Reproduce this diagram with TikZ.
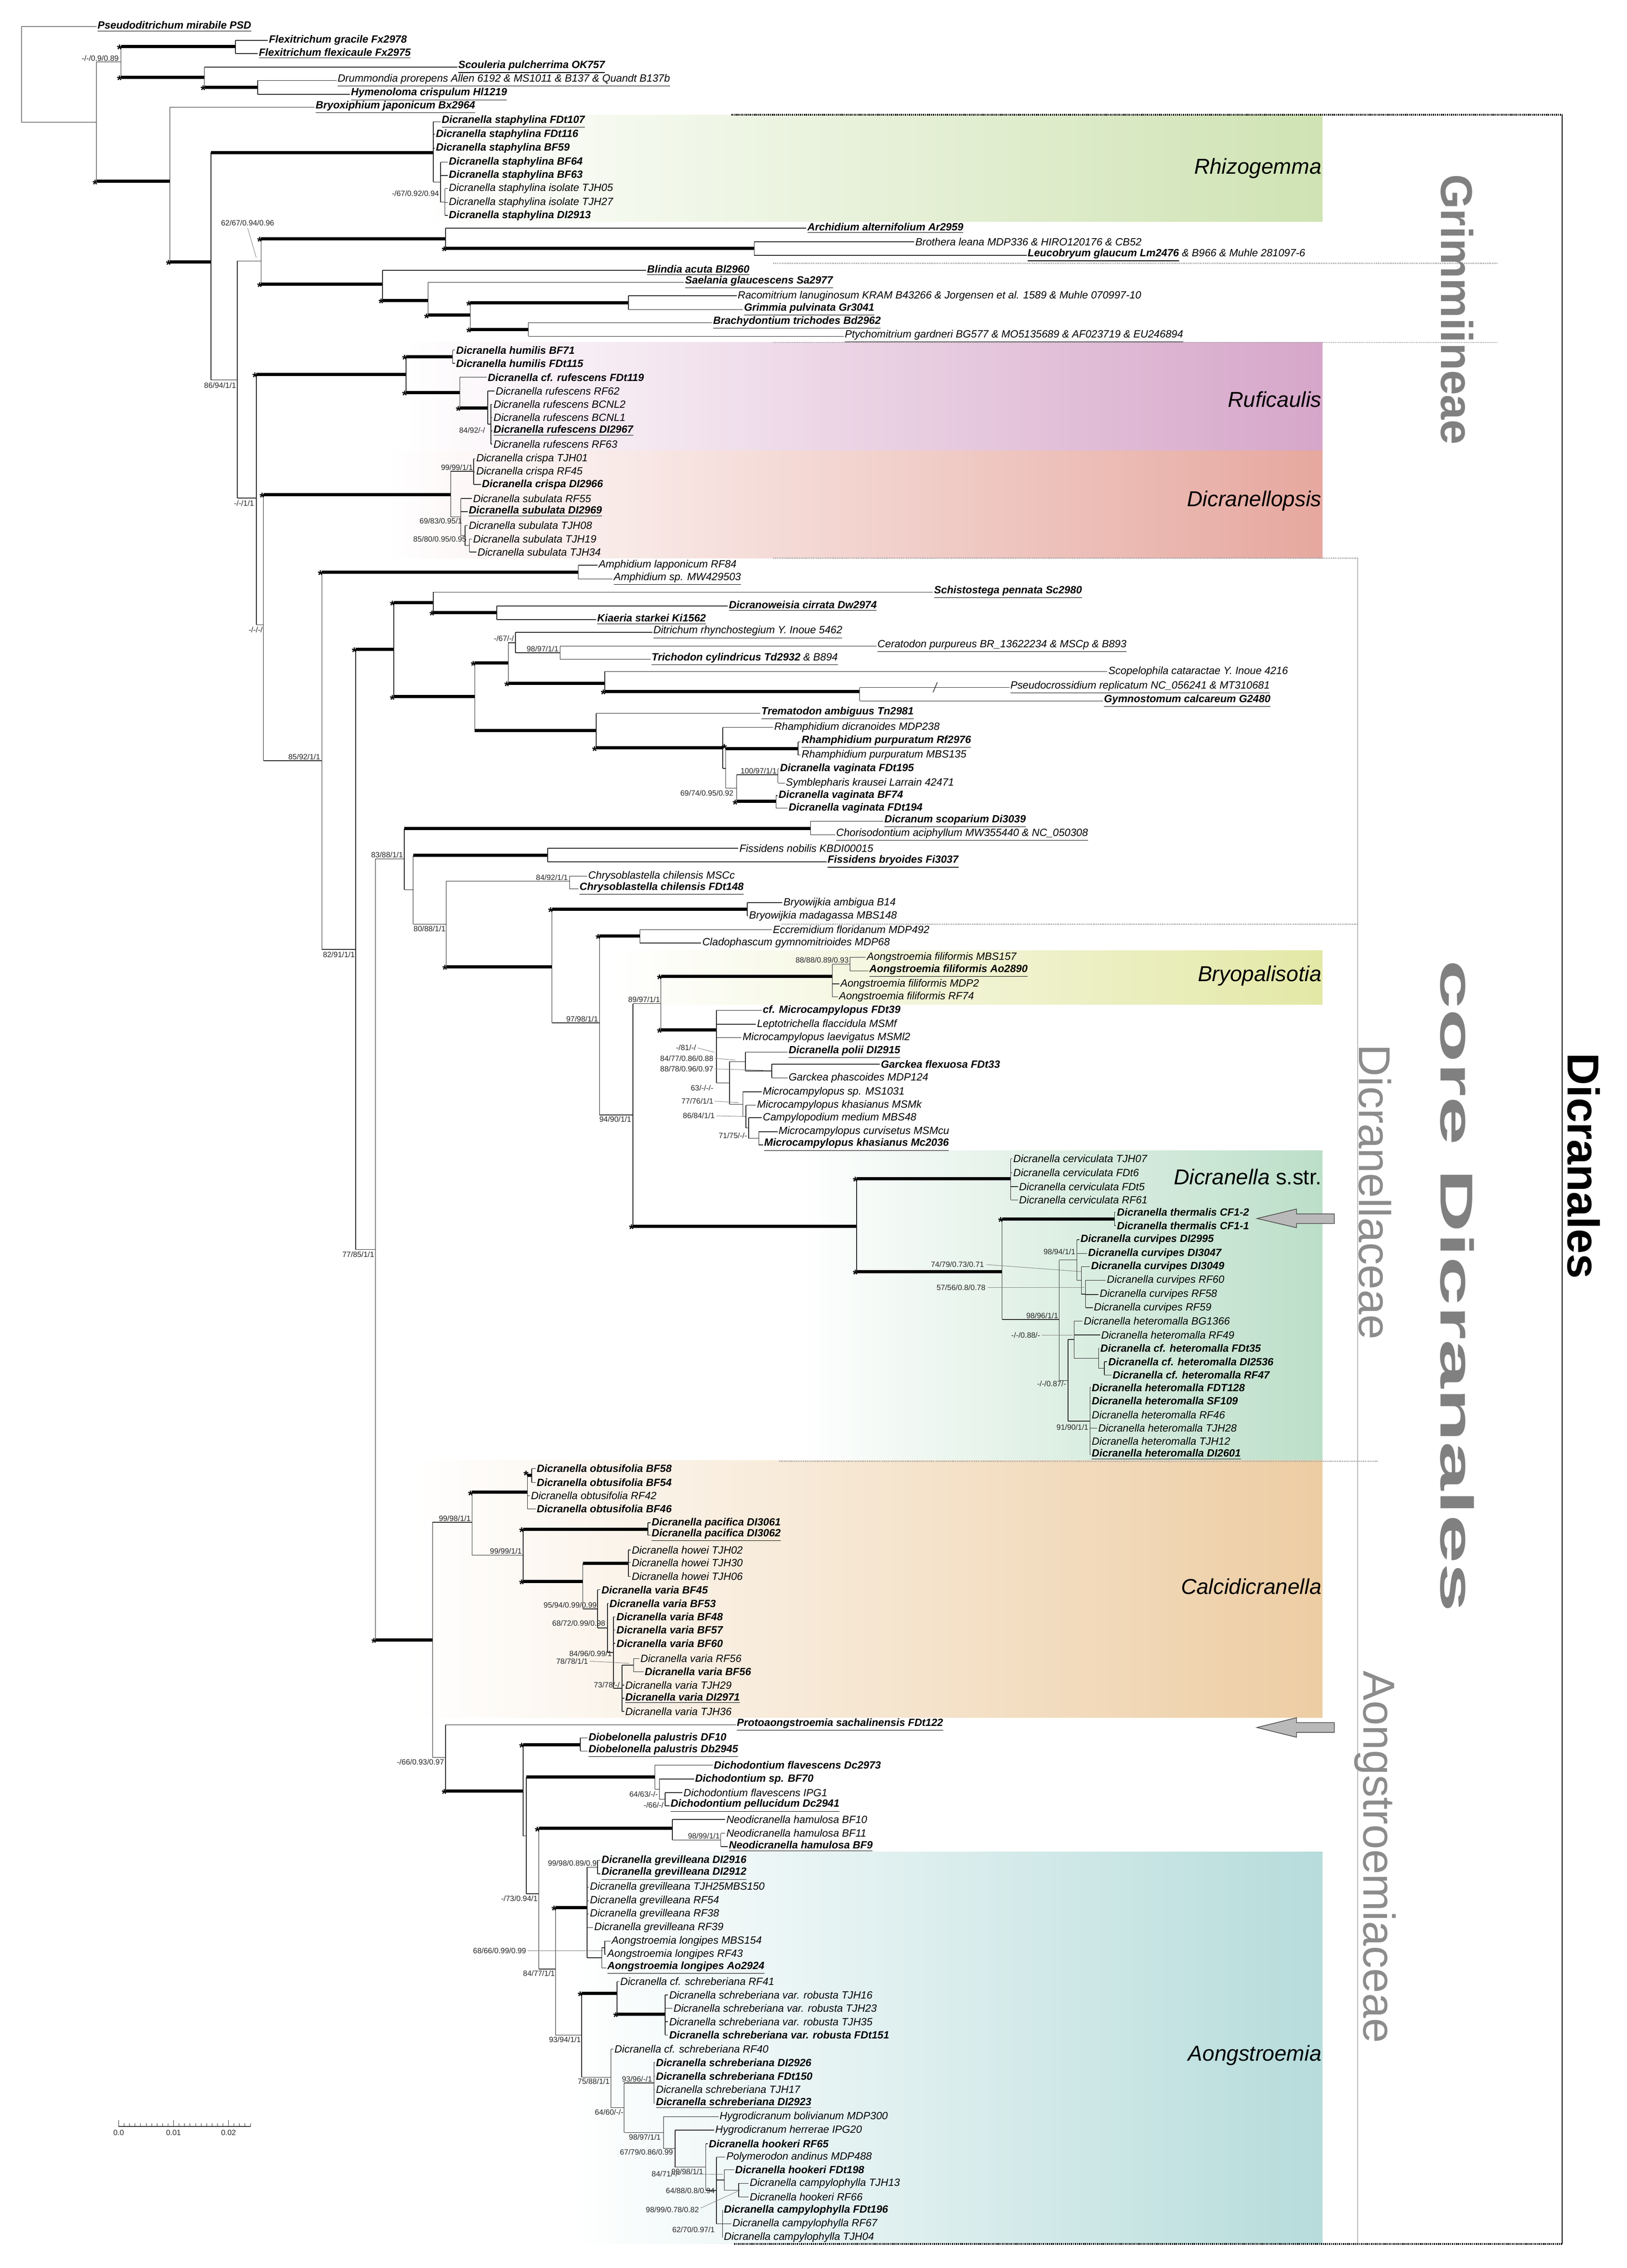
\documentclass[tikz,border=0pt]{standalone}
\usepackage{fontspec}
\setmainfont{Liberation Sans}
\begin{document}
\tikzset{
 br/.style={line width=0.45pt, black!85},
 tbr/.style={line width=2.2pt, black},
 leaf/.style={font=\fontsize{7.3}{8}\selectfont\itshape, inner sep=0.6pt, anchor=west},
 supp/.style={font=\fontsize{5.3}{6}\selectfont, inner sep=0.4pt, text=black!85},
 starn/.style={font=\fontsize{9}{9}\selectfont\bfseries, inner sep=0pt, anchor=east, yshift=-2pt},
 ldr/.style={line width=0.3pt, gray},
 clade/.style={font=\fontsize{15}{16}\selectfont\itshape, anchor=east, inner sep=0pt},
 vlab/.style={rotate=-90, inner sep=0pt},
 dotl/.style={gray!70, line width=0.9pt, dash pattern=on 0.6pt off 0.6pt},
 blk/.style={black, line width=1.2pt, dash pattern=on 0.8pt off 0.6pt},
 arr/.style={fill=gray!55, draw=black!70, line width=0.5pt},
}
\newcommand\brH[3]{\draw[br] (#1,#3) -- (#2,#3);}
\newcommand\brT[3]{\draw[tbr] (#1,#3) -- (#2,#3);}
\newcommand\brV[3]{\draw[br] (#1,#2) -- (#1,#3);}
\newcommand\fmtb[1]{\bfseries #1}
\newcommand\fmtbu[1]{\bfseries\underline{#1}}
\newcommand\fmtp[1]{#1}
\newcommand\fmtpu[1]{\underline{#1}}
\newcommand\lfN[5]{\draw[br] (#1,#3) -- (#2,#3); \node[leaf] at (#2,#3) {\csname fmt#4\endcsname{#5}};}
\newcommand\stN[2]{\node[starn] at (#1+1,#2) {*};}
\newcommand\supN[3][south east]{\node[supp,anchor=#1] at (#2) {#3};}
\begin{tikzpicture}[x=1pt,y=-1pt]
\useasboundingbox (0,0) rectangle (1130,1575.6);
\fill[white] (0,0) rectangle (1130,1575.6);
% ---------- coloured clade boxes ----------
\shade[left color=white, right color={rgb,255:red,207;green,227;blue,179}] (290,79.8) rectangle (918.5,154);
\shade[left color=white, right color={rgb,255:red,214;green,166;blue,201}] (281,237.9) rectangle (918.5,313.1);
\shade[left color=white, right color={rgb,255:red,230;green,168;blue,159}] (269,313.1) rectangle (918.5,387.8);
\shade[left color=white, right color={rgb,255:red,227;green,232;blue,166}] (427,660.3) rectangle (918.5,697.7);
\shade[left color=white, right color={rgb,255:red,188;green,223;blue,201}] (555,799.2) rectangle (918.5,1014.4);
\shade[left color=white, right color={rgb,255:red,237;green,205;blue,163}] (287,1014.4) rectangle (918.5,1193.3);
\shade[left color=white, right color={rgb,255:red,182;green,220;blue,219}] (397,1286.6) rectangle (918.5,1558.8);
% ---------- brackets and group lines ----------
\draw[blk] (508,79.8) -- (1085,79.8);
\draw[black, line width=0.5pt] (1085,79.8) -- (1085,1558.8);
\draw[blk] (510,1558.8) -- (1085,1558.8);
\draw[dotl] (537,182.8) -- (1040,182.8);
\draw[dotl] (537,237.9) -- (1040,237.9);
\draw[dotl] (537,387.8) -- (943,387.8);
\draw[dotl] (543,642.1) -- (943,642.1);
\draw[dotl] (541,1015.2) -- (957,1015.2);
\draw[gray, line width=0.4pt] (943,387.8) -- (943,1558.8);
% ---------- group names ----------
\node[vlab, font=\fontsize{31}{31}\selectfont\bfseries, text={rgb,255:red,128;green,128;blue,128}] at (1012,215) {Grimmiineae};
\node[vlab, font=\fontsize{31}{31}\selectfont, text={rgb,255:red,140;green,140;blue,140}] at (955,828) {Dicranellaceae};
\node[vlab, font=\fontsize{31}{31}\selectfont, text={rgb,255:red,140;green,140;blue,140}] at (955,1290) {Aongstroemiaceae};
\node[vlab, xscale=1.9, font=\fontsize{32}{32}\selectfont\bfseries, text={rgb,255:red,128;green,128;blue,128}] at (1012,893.5) {core Dicranales};
\node[vlab, font=\fontsize{31}{31}\selectfont\bfseries, text=black] at (1100,810) {Dicranales};
\node[clade] at (918,117) {Rhizogemma};
\node[clade] at (918,277.6) {Ruficaulis};
\node[clade] at (918,348) {Dicranellopsis};
\node[clade] at (918,678) {Bryopalisotia};
\node[clade] at (918,817.5) {Dicranella\/ \upshape s.str.};
\node[clade] at (918,1102) {Calcidicranella};
\node[clade] at (918,1428) {Aongstroemia};
% ---------- arrows ----------
\draw[arr] (873,846.5) -- (900.5,839.9) -- (900.5,843.3) -- (926.7,843.3) -- (926.7,850) -- (900.5,850) -- (900.5,852.9) -- cycle;
\draw[arr] (873,1200.1) -- (900.5,1193.3) -- (900.5,1196.7) -- (926.7,1196.7) -- (926.7,1203.5) -- (900.5,1203.5) -- (900.5,1206.9) -- cycle;
% ---------- scale bar ----------
\draw[black!80, line width=0.5pt] (82.4,1477.3) -- (174,1477.3);
\foreach \i in {0,...,24} {\draw[black!80, line width=0.3pt] (82.4+3.815*\i,1477.3) -- (82.4+3.815*\i,1475);}
\foreach \i in {0,10,20} {\draw[black!80, line width=0.4pt] (82.4+3.815*\i,1477.3) -- (82.4+3.815*\i,1472.9);}
\node[supp,anchor=north] at (82.4,1479) {0.0};
\node[supp,anchor=north] at (120.5,1479) {0.01};
\node[supp,anchor=north] at (158.7,1479) {0.02};
% ================= TREE =================
% root and outgroups
\brV{15}{18.4}{85}
\lfN{15}{67}{18.4}{bu}{Pseudoditrichum mirabile PSD}
\brH{15}{67}{85}
\brV{67}{43}{126}
\brH{67}{84}{43} \supN{83,43}{-/-/0.9/0.89}
\brV{84}{32.4}{53.7}
\brT{84}{163.6}{32.4} \stN{84}{32.4}
\brV{163.6}{28}{37.2}
\lfN{163.6}{186}{28}{b}{Flexitrichum gracile Fx2978}
\lfN{163.6}{179}{37.2}{bu}{Flexitrichum flexicaule Fx2975}
\brT{84}{142}{53.7} \stN{84}{53.7}
\brV{142}{46.6}{60.7}
\lfN{142}{317.5}{46.6}{bu}{Scouleria pulcherrima OK757}
\brT{142}{179}{60.7} \stN{142}{60.7}
\brV{179}{55.9}{65.6}
\lfN{179}{233.8}{55.9}{pu}{Drummondia prorepens Allen 6192 \& MS1011 \& B137 \& Quandt B137b}
\lfN{179}{243}{65.6}{bu}{Hymenoloma crispulum Hl1219}
\brT{67}{118}{126} \stN{67}{126}
\brV{118}{74.5}{182}
\lfN{118}{218.5}{74.5}{bu}{Bryoxiphium japonicum Bx2964}
\brT{118}{146.5}{182} \stN{118}{182}
\brV{146.5}{105.9}{264}
\brT{146.5}{301}{105.9}
% Rhizogemma
\brV{301}{84.6}{126.5}
\lfN{301}{306}{84.6}{bu}{Dicranella staphylina FDt107}
\lfN{301}{302}{93.3}{b}{Dicranella staphylina FDt116}
\lfN{301}{302}{103}{b}{Dicranella staphylina BF59}
\brH{301}{306}{126.5}
\brV{306}{112.7}{140.4}
\lfN{306}{311}{112.7}{b}{Dicranella staphylina BF64}
\lfN{306}{311}{121.9}{b}{Dicranella staphylina BF63}
\brH{306}{309}{140.4} \supN[east]{305.5,134.5}{-/67/0.92/0.94}
\brV{309}{131}{149.7}
\lfN{309}{311}{131}{p}{Dicranella staphylina isolate TJH05}
\lfN{309}{311}{140.7}{p}{Dicranella staphylina isolate TJH27}
\lfN{309}{311}{149.7}{b}{Dicranella staphylina DI2913}
% node I
\brH{146.5}{164.8}{264} \supN[north east]{164.5,265}{86/94/1/1}
\brV{164.8}{181.3}{346}
\brH{164.8}{181.3}{181.3}
\supN[south]{172,157.5}{62/67/0.94/0.96}
\draw[ldr] (172,158.5) -- (178,179);
\brV{181.3}{165.8}{197.5}
\brT{181.3}{309.5}{165.8} \stN{181.3}{165.8}
\brV{309.5}{158.5}{172.6}
\lfN{309.5}{560}{158.5}{bu}{Archidium alternifolium Ar2959}
\brT{309.5}{523.8}{172.6} \stN{309.5}{172.6}
\brV{523.8}{168}{177.4}
\lfN{523.8}{635}{168}{p}{Brothera leana MDP336 \& HIRO120176 \& CB52}
\lfN{523.8}{713}{177.4}{p}{{\bfseries\underline{Leucobryum glaucum Lm2476}} \& B966 \& Muhle 281097-6}
\brT{181.3}{265.6}{197.5} \stN{181.3}{197.5}
\brV{265.6}{187.8}{208.7}
\lfN{265.6}{448.7}{187.8}{bu}{Blindia acuta Bl2960}
\brT{265.6}{297.3}{208.7} \stN{265.6}{208.7}
\brV{297.3}{196.1}{219}
\lfN{297.3}{475}{196.1}{bu}{Saelania glaucescens Sa2977}
\brT{297.3}{326.6}{219} \stN{297.3}{219}
\brV{326.6}{210.3}{229}
\brT{326.6}{436.5}{210.3} \stN{326.6}{210.3}
\brV{436.5}{205.5}{215}
\lfN{436.5}{511.6}{205.5}{p}{Racomitrium lanuginosum KRAM B43266 \& Jorgensen et al. 1589 \& Muhle 070997-10}
\lfN{436.5}{516}{215}{bu}{Grimmia pulvinata Gr3041}
\brT{326.6}{367}{229} \stN{326.6}{229}
\brV{367}{224.2}{233.6}
\lfN{367}{494.5}{224.2}{bu}{Brachydontium trichodes Bd2962}
\lfN{367}{586}{233.6}{pu}{Ptychomitrium gardneri BG577 \& MO5135689 \& AF023719 \& EU246894}
% node R
\brH{164.8}{178}{346} \supN[north east]{177,347}{-/-/1/1}
\brV{178}{260}{434}
\brT{178}{282}{260} \stN{178}{260}
% Ruficaulis
\brV{282}{247.8}{272.7}
\brT{282}{314.4}{247.8} \stN{282}{247.8}
\brV{314.4}{243.2}{252.4}
\lfN{314.4}{316}{243.2}{b}{Dicranella humilis BF71}
\lfN{314.4}{316}{252.4}{b}{Dicranella humilis FDt115}
\brT{282}{319.3}{272.7} \stN{282}{272.7}
\brV{319.3}{262.1}{283.3}
\lfN{319.3}{338}{262.1}{b}{Dicranella cf. rufescens FDt119}
\brT{319.3}{338.8}{283.3} \stN{319.3}{283.3}
\brV{338.8}{271.7}{294.7}
\lfN{338.8}{343.5}{271.7}{p}{Dicranella rufescens RF62}
\brH{338.8}{341}{294.7} \supN[east]{337.5,299}{84/92/-/}
\brV{341}{280.9}{308.5}
\lfN{341}{342}{280.9}{p}{Dicranella rufescens BCNL2}
\lfN{341}{342}{290.1}{p}{Dicranella rufescens BCNL1}
\lfN{341}{342}{299.3}{bu}{Dicranella rufescens DI2967}
\lfN{341}{342}{308.5}{p}{Dicranella rufescens RF63}
% node S
\brH{178}{183}{434} \supN[north east]{183,435}{-/-/-/}
\brV{183}{343.5}{528.5}
\brT{183}{313}{343.5} \stN{183}{343.5}
% Dicranellopsis
\brV{313}{327.4}{359}
\brH{313}{329}{327.4} \supN{329,327.2}{99/99/1/1}
\brV{329}{318.7}{336.6}
\lfN{329}{330}{318.7}{p}{Dicranella crispa TJH01}
\lfN{329}{330}{327.9}{p}{Dicranella crispa RF45}
\lfN{329}{334}{336.6}{b}{Dicranella crispa DI2966}
\brH{313}{320}{359}
\brV{320}{346.3}{372}
\lfN{320}{327.8}{346.3}{p}{Dicranella subulata RF55}
\lfN{320}{324.8}{355.4}{bu}{Dicranella subulata DI2969}
\brH{320}{323}{372} \supN[east]{321.5,362}{69/83/0.95/1}
\brV{323}{365.1}{379}
\lfN{323}{324.8}{365.1}{p}{Dicranella subulata TJH08}
\brH{323}{326}{379} \supN[east]{324.5,374.5}{85/80/0.95/0.95}
\brV{326}{374.5}{383.5}
\lfN{326}{327.8}{374.5}{p}{Dicranella subulata TJH19}
\lfN{326}{330.9}{383.5}{p}{Dicranella subulata TJH34}
% node T
\brH{183}{223.5}{528.5} \supN{223,528.3}{85/92/1/1}
\brV{223.5}{397.5}{659.5}
\brT{223.5}{401.7}{397.5} \stN{223.5}{397.5}
\brV{401.7}{392.6}{402.3}
\lfN{401.7}{415}{392.6}{p}{Amphidium lapponicum RF84}
\lfN{401.7}{425.5}{402.3}{pu}{Amphidium sp. MW429503}
\brH{223.5}{247}{659.5} \supN[north east]{247,660.5}{82/91/1/1}
% node U
\brV{247}{451}{868}
\brT{247}{273.5}{451} \stN{247}{451}
\brV{273.5}{418.6}{484}
\brT{273.5}{301}{418.6} \stN{273.5}{418.6}
\brV{301}{411.3}{425.5}
\lfN{301}{648}{411.3}{bu}{Schistostega pennata Sc2980}
\brT{301}{345}{425.5} \stN{301}{425.5}
\brV{345}{421}{430.4}
\lfN{345}{505.5}{421}{bu}{Dicranoweisia cirrata Dw2974}
\lfN{345}{414}{430.4}{bu}{Kiaeria starkei Ki1562}
\brT{273.5}{329.7}{484} \stN{273.5}{484}
\brV{329.7}{460.6}{507.4}
\brT{329.7}{353}{460.6} \stN{329.7}{460.6}
\brV{353}{446.5}{474.6}
\brH{353}{358}{446.5} \supN{357.5,446}{-/67/-/}
\brV{358}{439.3}{453.5}
\lfN{358}{453}{439.3}{pu}{Ditrichum rhynchostegium Y. Inoue 5462}
\brH{358}{389}{453.5} \supN{388.5,453.3}{98/97/1/1}
\brV{389}{448.9}{458}
\lfN{389}{608.7}{448.9}{pu}{Ceratodon purpureus BR\_13622234 \& MSCp \& B893}
\lfN{389}{451.8}{458}{pu}{{\bfseries Trichodon cylindricus Td2932} \& B894}
\brT{353}{420}{474.6} \stN{353}{474.6}
\brV{420}{466.5}{480.4}
\lfN{420}{769}{466.5}{p}{Scopelophila cataractae Y. Inoue 4216}
\brT{420}{597}{480.4} \stN{420}{480.4}
\brV{597}{477.6}{487}
\lfN{597}{701}{477.6}{pu}{Pseudocrossidium replicatum NC\_056241 \& MT310681}
\draw[br] (648,481) -- (651,474);
\lfN{597}{766}{487}{bu}{Gymnostomum calcareum G2480}
\brT{329.7}{414}{507.4}
\brV{414}{495.6}{519.6}
\lfN{414}{528}{495.6}{bu}{Trematodon ambiguus Tn2981}
\brT{414}{502}{519.6} \stN{414}{519.6}
\brV{502}{505.3}{533.8}
\lfN{502}{537}{505.3}{p}{Rhamphidium dicranoides MDP238}
\brH{502}{504}{533.8}
\brV{504}{520}{547.5}
\brT{504}{554.3}{520} \stN{504}{518}
\brV{554.3}{515.4}{524.6}
\lfN{554.3}{556}{515.4}{bu}{Rhamphidium purpuratum Rf2976}
\lfN{554.3}{556}{524.6}{p}{Rhamphidium purpuratum MBS135}
\brH{504}{511.6}{547.5}
\brV{511.6}{538.2}{556.8}
\brH{511.6}{540.3}{538.2} \supN{540,538}{100/97/1/1}
\brV{540.3}{534}{544}
\lfN{540.3}{541}{534}{b}{Dicranella vaginata FDt195}
\lfN{540.3}{545}{544}{p}{Symblepharis krausei Larrain 42471}
\brT{511.6}{539}{556.8} \stN{511.6}{556.8} \supN[east]{510,551}{69/74/0.95/0.92}
\brV{539}{552.7}{561.3}
\lfN{539}{540}{552.7}{b}{Dicranella vaginata BF74}
\lfN{539}{547}{561.3}{b}{Dicranella vaginata FDt194}
% node AJ
\brH{247}{260.7}{868} \supN[north east]{260.5,869}{77/85/1/1}
\brV{260.7}{596.7}{1139.2}
\brH{260.7}{280.8}{596.7} \supN{280.5,596.5}{83/88/1/1}
\brV{280.8}{575.6}{618.1}
\brT{280.8}{563}{575.6}
\brV{563}{570.5}{580}
\lfN{563}{613.5}{570.5}{bu}{Dicranum scoparium Di3039}
\lfN{563}{580}{580}{pu}{Chorisodontium aciphyllum MW355440 \& NC\_050308}
\brH{280.8}{287}{618.1}
\brV{287}{594.3}{642}
\brT{287}{380.3}{594.3}
\brV{380.3}{589.3}{598.7}
\lfN{380.3}{512.8}{589.3}{p}{Fissidens nobilis KBDI00015}
\lfN{380.3}{574}{598.7}{bu}{Fissidens bryoides Fi3037}
\brH{287}{310}{642} \supN[north east]{310,642.5}{80/88/1/1}
\brV{310}{612.1}{671.6}
\brH{310}{395.6}{612.1} \supN{395,612}{84/92/1/1}
\brV{395.6}{608.7}{617.4}
\lfN{395.6}{407.8}{608.7}{p}{Chrysoblastella chilensis MSCc}
\lfN{395.6}{401.7}{617.4}{bu}{Chrysoblastella chilensis FDt148}
\brT{310}{383.4}{671.6} \stN{310}{671.6}
\brV{383.4}{631.5}{710.6}
\brT{383.4}{519}{631.5} \stN{383.4}{631.5}
\brV{519}{627.1}{636.3}
\lfN{519}{543.4}{627.1}{p}{Bryowijkia ambigua B14}
\lfN{519}{519.5}{636.3}{p}{Bryowijkia madagassa MBS148}
\brH{383.4}{416.4}{710.6} \supN{416,710.4}{97/98/1/1}
\brV{416.4}{650.3}{774.5}
\brT{416.4}{444.4}{650.3} \stN{416.4}{650.3}
\brV{444.4}{645.8}{655.1}
\lfN{444.4}{536}{645.8}{p}{Eccremidium floridanum MDP492}
\lfN{444.4}{487}{655.1}{p}{Cladophascum gymnomitrioides MDP68}
\brH{416.4}{439.6}{774.5} \supN[north east]{439,775}{94/90/1/1}
\brV{439.6}{697.2}{851.8}
\brH{439.6}{459}{697.2} \supN{459,697}{89/97/1/1}
\brV{459}{678.3}{715.4}
\brT{459}{578}{678.3} \stN{459}{678.3}
\brV{578}{669.8}{692.4}
\brH{578}{590.3}{669.8} \supN{590,669.6}{88/88/0.89/0.93}
\brV{590.3}{665.1}{674.5}
\lfN{590.3}{601.3}{665.1}{p}{Aongstroemia filiformis MBS157}
\lfN{590.3}{603}{674.5}{bu}{Aongstroemia filiformis Ao2890}
\lfN{578}{583}{683.5}{p}{Aongstroemia filiformis MDP2}
\lfN{578}{582}{692.4}{p}{Aongstroemia filiformis RF74}
\brT{459}{497.6}{715.4} \stN{459}{715.4}
\brV{497.6}{701.9}{752.3}
\lfN{497.6}{529}{701.9}{b}{cf. Microcampylopus FDt39}
\lfN{497.6}{525}{711.6}{p}{Leptotrichella flaccidula MSMf}
\lfN{497.6}{515}{720.9}{p}{Microcampylopus laevigatus MSMl2}
\supN[east]{484,727.7}{-/81/-/} \draw[ldr] (484.5,728) -- (496,731);
\brH{497.6}{506.7}{752.3} \supN[east]{496,755.7}{63/-/-/-}
\brV{506.7}{737.5}{767.1}
\brH{506.7}{517.7}{737.5}
\supN[east]{496,735.2}{84/77/0.86/0.88} \draw[ldr] (496.5,735.2) -- (511,736.5);
\brV{517.7}{731}{744}
\lfN{517.7}{547}{731}{bu}{Dicranella polii DI2915}
\brH{517.7}{536}{744}
\supN[east]{496,742.6}{88/78/0.96/0.97} \draw[ldr] (496.5,742.6) -- (530,743.5);
\brV{536}{739.3}{748.8}
\lfN{536}{611}{739.3}{b}{Garckea flexuosa FDt33}
\lfN{536}{547}{748.8}{p}{Garckea phascoides MDP124}
\brH{506.7}{516}{767.1}
\supN[east]{496,764.8}{77/76/1/1} \draw[ldr] (496.5,765) -- (513,766);
\brV{516}{758.5}{775.7}
\lfN{516}{529}{758.5}{p}{Microcampylopus sp. MS1031}
\brH{516}{518}{775.7}
\supN[east]{497,775}{86/84/1/1} \draw[ldr] (497.5,775.2) -- (517,775.6);
\brV{518}{767.8}{783.6}
\lfN{518}{525}{767.8}{p}{Microcampylopus khasianus MSMk}
\brH{518}{520}{783.6}
\brV{520}{776.5}{790.8}
\lfN{520}{529}{776.5}{p}{Campylopodium medium MBS48}
\brH{520}{527}{790.8} \supN[east]{519.5,789}{71/75/-/-}
\brV{527}{786.2}{795.4}
\lfN{527}{540}{786.2}{p}{Microcampylopus curvisetus MSMcu}
\lfN{527}{530}{795.4}{bu}{Microcampylopus khasianus Mc2036}
% Dicranella s.str.
\brT{439.6}{595}{851.8} \stN{439.6}{851.8}
\brV{595}{818.9}{883.4}
\brT{595}{702}{818.9} \stN{595}{818.9}
\brV{702}{805}{833.6}
\lfN{702}{703}{805}{p}{Dicranella cerviculata TJH07}
\lfN{702}{703}{814.7}{p}{Dicranella cerviculata FDt6}
\lfN{702}{707}{824.4}{p}{Dicranella cerviculata FDt5}
\lfN{702}{707}{833.6}{p}{Dicranella cerviculata RF61}
\brT{595}{696}{883.4} \stN{595}{883.4}
\brV{696}{846.9}{916.7}
\brT{696}{774}{846.9} \stN{696}{846.9}
\brV{774}{842.2}{851.4}
\lfN{774}{775}{842.2}{b}{Dicranella thermalis CF1-2}
\lfN{774}{775}{851.4}{b}{Dicranella thermalis CF1-1}
\brH{696}{735.7}{916.7} \supN{735.5,916.5}{98/96/1/1}
\brV{735.7}{875.3}{959}
\brH{735.7}{748}{875.3}
\supN[east]{684,878.5}{74/79/0.73/0.71} \draw[ldr] (685,878.5) -- (751,883.4);
\brV{748}{861.2}{889.5}
\lfN{748}{749.7}{861.2}{b}{Dicranella curvipes DI2995}
\lfN{748}{755}{870.8}{b}{Dicranella curvipes DI3047} \supN[east]{747.5,869.5}{98/94/1/1}
\brH{748}{751}{889.5}
\brV{751}{879.9}{899}
\lfN{751}{757}{879.9}{b}{Dicranella curvipes DI3049}
\brH{751}{754}{899}
\supN[east]{685,894.6}{57/56/0.8/0.78} \draw[ldr] (686,894.6) -- (753,894.6);
\brV{754}{889.4}{908.5}
\lfN{754}{768}{889.4}{p}{Dicranella curvipes RF60}
\lfN{754}{763}{899.3}{p}{Dicranella curvipes RF58}
\lfN{754}{759}{908.5}{p}{Dicranella curvipes RF59}
\brH{735.7}{741.8}{959}
\brV{741.8}{930.6}{987.2}
\brH{741.8}{746}{930.6}
\brV{746}{917.7}{943.6}
\lfN{746}{752}{917.7}{p}{Dicranella heteromalla BG1366}
\lfN{746}{764}{927.4}{p}{Dicranella heteromalla RF49}
\supN[east]{723,927.6}{-/-/0.88/-} \draw[ldr] (723.5,927.6) -- (745,927.6);
\brH{746}{763}{943.6}
\brV{763}{936.6}{950.6}
\lfN{763}{763.5}{936.6}{b}{Dicranella cf. heteromalla FDt35}
\brH{763}{767}{950.6}
\brV{767}{946}{955.2}
\lfN{767}{769}{946}{b}{Dicranella cf. heteromalla DI2536}
\lfN{767}{772}{955.2}{b}{Dicranella cf. heteromalla RF47}
\brH{741.8}{757}{987.2} \supN[east]{741,961.2}{-/-/0.87/-}
\brV{757}{963.9}{1010.5}
\lfN{757}{757.5}{963.9}{b}{Dicranella heteromalla FDT128}
\lfN{757}{757.5}{973.3}{b}{Dicranella heteromalla SF109}
\lfN{757}{757.5}{983}{p}{Dicranella heteromalla RF46}
\lfN{757}{762}{992.1}{p}{Dicranella heteromalla TJH28} \supN[east]{756.5,991.5}{91/90/1/1}
\lfN{757}{757.5}{1001.3}{p}{Dicranella heteromalla TJH12}
\lfN{757}{757.5}{1010.5}{bu}{Dicranella heteromalla DI2601}
% Calcidicranella + Aongstroemiaceae
\brT{260.7}{300.4}{1139.2} \stN{260.7}{1139.2}
\brV{300.4}{1057.5}{1220.9}
\brH{300.4}{327.8}{1057.5} \supN{327.5,1057.3}{99/98/1/1}
\brV{327.8}{1036.7}{1080.4}
\brT{327.8}{366.3}{1036.7} \stN{327.8}{1036.7}
\brV{366.3}{1025}{1048.3}
\brT{366.3}{369.3}{1025} \stN{366.3}{1023}
\brV{369.3}{1020.2}{1029.9}
\lfN{369.3}{372}{1020.2}{b}{Dicranella obtusifolia BF58}
\lfN{369.3}{372}{1029.9}{b}{Dicranella obtusifolia BF54}
\lfN{366.3}{368}{1039.1}{p}{Dicranella obtusifolia RF42}
\lfN{366.3}{372}{1048.3}{b}{Dicranella obtusifolia BF46}
\brH{327.8}{363.3}{1080.4} \supN{363,1080.2}{99/99/1/1}
\brV{363.3}{1062.3}{1098.5}
\brT{363.3}{450}{1062.3} \stN{363.3}{1062.3}
\brV{450}{1057.9}{1066.6}
\lfN{450}{451.8}{1057.9}{b}{Dicranella pacifica DI3061}
\lfN{450}{451.8}{1066.6}{bu}{Dicranella pacifica DI3062}
\brT{363.3}{404.8}{1098.5} \stN{363.3}{1098.5}
\brV{404.8}{1086}{1117.7}
\brT{404.8}{436.5}{1086}
\brV{436.5}{1076.8}{1095.2}
\lfN{436.5}{438}{1076.8}{p}{Dicranella howei TJH02}
\lfN{436.5}{438}{1085.5}{p}{Dicranella howei TJH30}
\lfN{436.5}{438}{1095.2}{p}{Dicranella howei TJH06}
\brH{404.8}{415}{1117.7} \supN{415,1117.5}{95/94/0.99/0.99}
\brV{415}{1104.4}{1131}
\lfN{415}{417}{1104.4}{b}{Dicranella varia BF45}
\brH{415}{422}{1131} \supN[east]{421,1127.5}{68/72/0.99/0.98}
\brV{422}{1114}{1148}
\lfN{422}{422.5}{1114}{b}{Dicranella varia BF53}
\brH{422}{426}{1148} \supN[east]{425.5,1148.8}{84/96/0.99/1}
\brV{426}{1123.2}{1172.9}
\lfN{426}{427.4}{1123.2}{b}{Dicranella varia BF48}
\lfN{426}{427.4}{1132.4}{b}{Dicranella varia BF57}
\lfN{426}{427.4}{1141.6}{b}{Dicranella varia BF60}
\brH{426}{432}{1172.9} \supN[east]{431,1170.6}{73/78/-/}
\brV{432}{1156.8}{1188.9}
\brH{432}{440}{1156.8}
\supN[east]{409,1154}{78/78/1/1} \draw[ldr] (409.5,1154) -- (437,1155.5);
\brV{440}{1152.2}{1161.4}
\lfN{440}{444}{1152.2}{p}{Dicranella varia RF56}
\lfN{440}{447}{1161.4}{b}{Dicranella varia BF56}
\lfN{432}{433.5}{1170.6}{p}{Dicranella varia TJH29}
\lfN{432}{433.5}{1179.8}{bu}{Dicranella varia DI2971}
\lfN{432}{433.5}{1188.9}{p}{Dicranella varia TJH36}
% Aongstroemiaceae
\brH{300.4}{309.5}{1220.9} \supN[north east]{309,1221.5}{-/66/0.93/0.97}
\brV{309.5}{1198.3}{1244.1}
\lfN{309.5}{511}{1198.3}{bu}{Protoaongstroemia sachalinensis FDt122}
\brT{309.5}{363.3}{1244.1} \stN{309.5}{1244.1}
\brV{363.3}{1212.1}{1275.5}
\brT{363.3}{403}{1212.1} \stN{363.3}{1212.1}
\brV{403}{1207.3}{1216.5}
\lfN{403}{408}{1207.3}{b}{Diobelonella palustris DF10}
\lfN{403}{408}{1216.5}{bu}{Diobelonella palustris Db2945}
\brH{363.3}{365.5}{1275.5}
\brV{365.5}{1234.5}{1315.6}
\brT{365.5}{454.8}{1234.5}
\brV{454.8}{1226.2}{1242.9}
\lfN{454.8}{495}{1226.2}{b}{Dichodontium flavescens Dc2973}
\brH{454.8}{458}{1242.9} \supN[east]{457.5,1246.5}{64/63/-/-}
\brV{458}{1235.9}{1249.9}
\lfN{458}{482}{1235.9}{b}{Dichodontium sp. BF70}
\brH{458}{462}{1249.9} \supN[east]{461.5,1254}{-/66/-/}
\brV{462}{1245.3}{1254.5}
\lfN{462}{474}{1245.3}{p}{Dichodontium flavescens IPG1}
\lfN{462}{465}{1254.5}{bu}{Dichodontium pellucidum Dc2941}
\brH{365.5}{374.2}{1315.6} \supN[north east]{374,1316.5}{-/73/0.94/1}
\brV{374.2}{1270.2}{1367.9}
\brT{374.2}{467}{1270.2} \stN{374.2}{1270.2}
\brV{467}{1263.9}{1278.2}
\lfN{467}{503.7}{1263.9}{p}{Neodicranella hamulosa BF10}
\brH{467}{500.6}{1278.2} \supN{500.5,1278}{98/99/1/1}
\brV{500.6}{1273.6}{1282.8}
\lfN{500.6}{503.7}{1273.6}{p}{Neodicranella hamulosa BF11}
\lfN{500.6}{505.5}{1282.8}{bu}{Neodicranella hamulosa BF9}
\brH{374.2}{385.8}{1367.9} \supN[north east]{386,1368.5}{84/77/1/1}
\brV{385.8}{1325.3}{1413.8}
\brT{385.8}{407.8}{1325.3} \stN{385.8}{1325.3}
\brV{407.8}{1297.1}{1360.1}
\brH{407.8}{415}{1297.1} \supN{415,1296.9}{99/98/0.89/0.9}
\brV{415}{1292.4}{1301.8}
\lfN{415}{417}{1292.4}{b}{Dicranella grevilleana DI2916}
\lfN{415}{417}{1301.8}{bu}{Dicranella grevilleana DI2912}
\lfN{407.8}{409}{1311.1}{p}{Dicranella grevilleana TJH25MBS150}
\lfN{407.8}{409}{1320.5}{p}{Dicranella grevilleana RF54}
\lfN{407.8}{409}{1329.7}{p}{Dicranella grevilleana RF38}
\lfN{407.8}{412}{1339.1}{p}{Dicranella grevilleana RF39}
\brH{407.8}{418}{1360.1}
\supN[east]{366,1355.3}{68/66/0.99/0.99} \draw[ldr] (366.5,1355.3) -- (419,1355.3);
\brV{418}{1353.1}{1367.2}
\brH{418}{420}{1353.1}
\brV{420}{1348.5}{1357.7}
\lfN{420}{424}{1348.5}{p}{Aongstroemia longipes MBS154}
\lfN{420}{421}{1357.7}{p}{Aongstroemia longipes RF43}
\lfN{418}{421}{1367.2}{bu}{Aongstroemia longipes Ao2924}
\brH{385.8}{404}{1413.8} \supN[north east]{404,1414.5}{93/94/1/1}
\brV{404}{1384.8}{1443}
\brT{404}{428.6}{1384.8} \stN{404}{1384.8}
\brV{428.6}{1376.6}{1399.3}
\lfN{428.6}{430}{1376.6}{p}{Dicranella cf. schreberiana RF41}
\brT{428.6}{462}{1399.3} \stN{428.6}{1399.3}
\brV{462}{1385.9}{1413.7}
\lfN{462}{464}{1385.9}{p}{Dicranella schreberiana var. robusta TJH16}
\lfN{462}{467}{1395.1}{p}{Dicranella schreberiana var. robusta TJH23}
\lfN{462}{464}{1404.5}{p}{Dicranella schreberiana var. robusta TJH35}
\lfN{462}{464}{1413.7}{b}{Dicranella schreberiana var. robusta FDt151}
\brH{404}{424.3}{1443} \supN[north east]{424,1443.5}{75/88/1/1}
\brV{424.3}{1423.5}{1464.2}
\lfN{424.3}{426}{1423.5}{p}{Dicranella cf. schreberiana RF40}
\brH{424.3}{433.5}{1464.2} \supN[north east]{433.5,1464.7}{64/60/-/-}
\brV{433.5}{1447}{1481.5}
\brH{433.5}{454.2}{1447} \supN{453.5,1446.8}{93/96/-/1}
\brV{454.2}{1432.9}{1461}
\lfN{454.2}{454.8}{1432.9}{b}{Dicranella schreberiana DI2926}
\lfN{454.2}{454.8}{1442.3}{b}{Dicranella schreberiana FDt150}
\lfN{454.2}{454.8}{1451.6}{p}{Dicranella schreberiana TJH17}
\lfN{454.2}{454.8}{1461}{bu}{Dicranella schreberiana DI2923}
\brH{433.5}{460.9}{1481.5} \supN[north east]{459.5,1482}{98/97/1/1}
\brV{460.9}{1470.4}{1492.6}
\lfN{460.9}{499}{1470.4}{p}{Hygrodicranum bolivianum MDP300}
\brH{460.9}{468.9}{1492.6} \supN[east]{468,1495}{67/79/0.86/0.99}
\brV{468.9}{1479.8}{1505.5}
\lfN{468.9}{496}{1479.8}{p}{Hygrodicranum herrerae IPG20}
\brH{468.9}{490.2}{1505.5} \supN[north east]{489,1506}{99/98/1/1}
\brV{490.2}{1489.2}{1521.7}
\lfN{490.2}{491.5}{1489.2}{b}{Dicranella hookeri RF65}
\brH{490.2}{497.6}{1521.7}
\brV{497.6}{1498.6}{1544.9}
\lfN{497.6}{503.7}{1498.6}{p}{Polymerodon andinus MDP488}
\brH{497.6}{503}{1514.5}
\supN[east]{473,1510.3}{84/71/-/-} \draw[ldr] (473.5,1510.3) -- (502,1510.5);
\brV{503}{1507.4}{1521.5}
\lfN{503}{509.8}{1507.4}{b}{Dicranella hookeri FDt198}
\brH{503}{513}{1521.5} \supN[east]{497,1522}{64/88/0.8/0.94}
\brV{513}{1516.8}{1526.2}
\lfN{513}{520}{1516.8}{p}{Dicranella campylophylla TJH13}
\lfN{513}{520}{1526.2}{p}{Dicranella hookeri RF66}
\supN[east]{486,1535}{98/99/0.78/0.82} \draw[ldr] (486.5,1534) -- (514,1521.5);
\brH{497.6}{501.8}{1544.9} \supN[east]{497,1549}{62/70/0.97/1}
\brV{501.8}{1535.5}{1554.3}
\lfN{501.8}{502}{1535.5}{b}{Dicranella campylophylla FDt196}
\lfN{501.8}{508}{1544.9}{p}{Dicranella campylophylla RF67}
\lfN{501.8}{502}{1554.3}{p}{Dicranella campylophylla TJH04}
\end{tikzpicture}
\end{document}
